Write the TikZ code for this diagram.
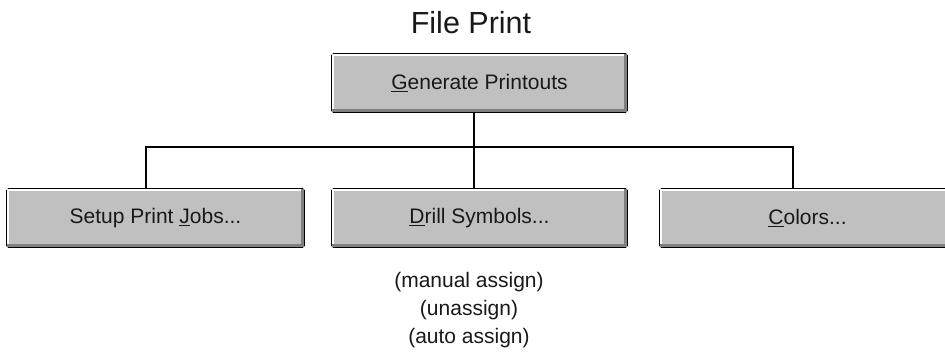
\documentclass[tikz,border=0pt]{standalone}
\usepackage{fontspec}
\setmainfont{Liberation Sans}
\definecolor{btngray}{RGB}{192,192,192}
\definecolor{shadegray}{RGB}{128,128,128}
\definecolor{inkgray}{RGB}{25,25,25}
\newcommand\btnbevel[1]{%
  \draw[white,line width=2pt,line cap=rect]
    ([xshift=1.8pt,yshift=4.5pt]#1.south west) -- ([xshift=1.8pt,yshift=-1.8pt]#1.north west)
    -- ([xshift=-4.5pt,yshift=-1.8pt]#1.north east);
  \draw[shadegray,line width=3pt,line cap=rect]
    ([xshift=2.5pt,yshift=2.8pt]#1.south west) -- ([xshift=-2.6pt,yshift=2.8pt]#1.south east)
    -- ([xshift=-2.6pt,yshift=-2.5pt]#1.north east);
}
\newcommand\key[1]{\underline{#1}}
\tikzset{
  btn/.style={draw=black,line width=1.6pt,fill=btngray,rounded corners=1.5pt,
    minimum width=295pt,minimum height=58pt,inner sep=0pt,
    font=\fontsize{21}{25}\selectfont,text=inkgray},
  wire/.style={draw=black,line width=1.6pt},
  note/.style={font=\fontsize{21}{28}\selectfont,align=center,text=inkgray,inner sep=0pt},
}
\begin{document}
\begin{tikzpicture}[x=1pt,y=-1pt]
\clip (0,0) rectangle (945,360);
\fill[white] (0,0) rectangle (945,360);
\node[font=\fontsize{30.5}{34}\selectfont,text=inkgray] (title) at (471,23) {File Print};
\node[btn] (gen) at (479.5,83) {\key{G}enerate Printouts};
\node[btn,minimum width=297pt] (setup) at (155.5,218) {Setup Print \key{J}obs...};
\node[btn] (drill) at (479.5,218) {\key{D}rill Symbols...};
\node[btn] (colors) at (807.5,218) {\key{C}olors...};
\foreach \n in {gen,setup,drill,colors}{\btnbevel{\n}}
\coordinate (bus) at (474,147);
\draw[wire] ([xshift=-5.5pt]gen.south) -- ([xshift=-5.5pt]drill.north);
\draw[wire] ([xshift=-9.5pt]setup.north) |- (bus) -| ([xshift=-14.5pt]colors.north);
\node[note] (notes) at (469,310) {(manual assign)\\(unassign)\\(auto assign)};
\end{tikzpicture}
\end{document}
